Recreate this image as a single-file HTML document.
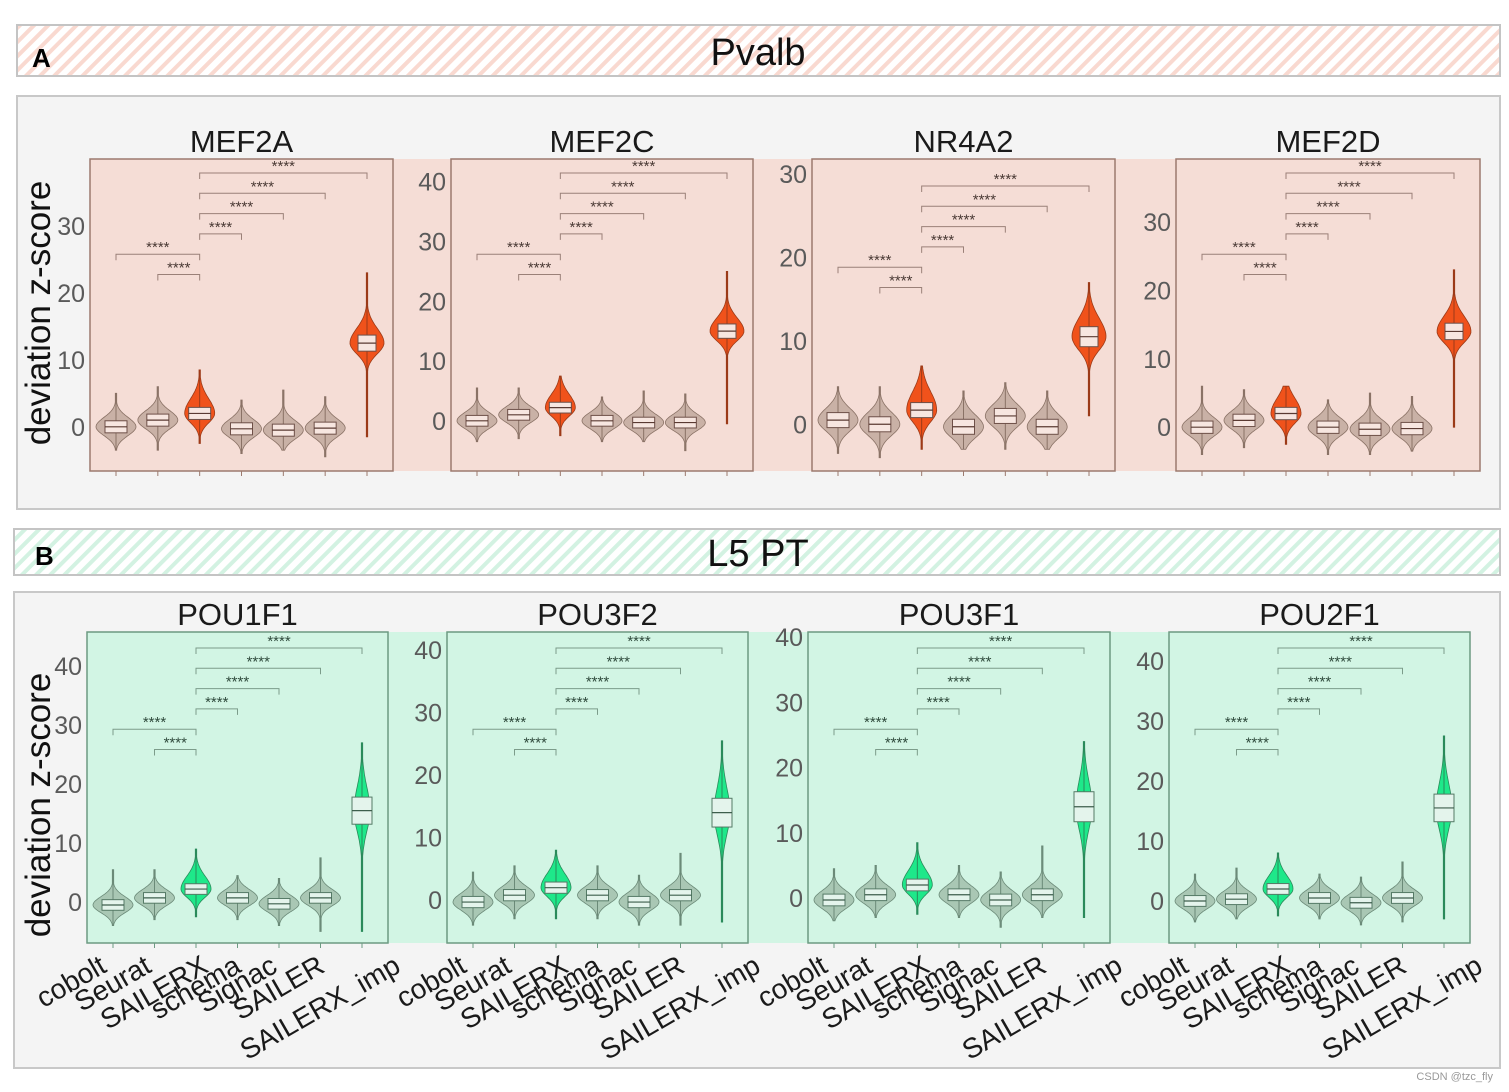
<!DOCTYPE html>
<html><head><meta charset="utf-8">
<style>
html,body{margin:0;padding:0;background:#fff;width:1509px;height:1092px;overflow:hidden}
svg{display:block;font-family:"Liberation Sans",sans-serif}
</style></head>
<body>
<svg id="fig" width="1509" height="1092" viewBox="0 0 1509 1092" xmlns="http://www.w3.org/2000/svg">
<defs>
<pattern id="hatchA" patternUnits="userSpaceOnUse" width="10" height="10" patternTransform="rotate(45)">
<rect width="10" height="10" fill="#fff"/><rect width="4" height="10" fill="#f9d9d0"/></pattern>
<pattern id="hatchB" patternUnits="userSpaceOnUse" width="10" height="10" patternTransform="rotate(45)">
<rect width="10" height="10" fill="#fff"/><rect width="4" height="10" fill="#d3f2e2"/></pattern>
</defs>
<rect x="17" y="25" width="1483" height="51" fill="url(#hatchA)" stroke="#c4c4c4" stroke-width="2"/>
<text x="758" y="65" font-size="38" text-anchor="middle" fill="#111">Pvalb</text>
<text x="32" y="67" font-size="26" font-weight="bold" fill="#000">A</text>
<rect x="17" y="96" width="1483" height="413" fill="#f4f4f4" stroke="#c8c8c8" stroke-width="2"/>
<rect x="90" y="159" width="1390" height="312" fill="#f5ddd6"/>
<rect x="14" y="529" width="1486" height="46" fill="url(#hatchB)" stroke="#c4c4c4" stroke-width="2"/>
<text x="758" y="566" font-size="38" text-anchor="middle" fill="#111">L5 PT</text>
<text x="35" y="565" font-size="26" font-weight="bold" fill="#000">B</text>
<rect x="14" y="592" width="1486" height="476" fill="#f4f4f4" stroke="#c8c8c8" stroke-width="2"/>
<rect x="87" y="632" width="1383" height="311" fill="#d2f5e4"/>
<text transform="translate(50,313) rotate(-90)" font-size="35" text-anchor="middle" fill="#111">deviation z-score</text>
<text transform="translate(50,805) rotate(-90)" font-size="35" text-anchor="middle" fill="#111">deviation z-score</text>
<text x="1493" y="1080" font-size="11" text-anchor="end" fill="#999">CSDN @tzc_fly</text>
</svg>
<script>
const categories = ["cobolt","Seurat","SAILERX","schema","Signac","SAILER","SAILERX_imp"];
const genes = ["MEF2A","MEF2C","NR4A2","MEF2D","POU1F1","POU3F2","POU3F1","POU2F1"];
const medians = [
 [0,1,2,-0.3,-0.5,-0.2,12.5],
 [0,1,2.2,0,-0.3,-0.3,15],
 [0.5,0,1.7,-0.3,1,-0.3,10.5],
 [0,1,2,0,-0.3,-0.2,14],
 [-0.5,0.7,2.2,0.7,-0.3,0.7,15.5],
 [-0.3,0.8,2,0.8,-0.3,0.8,14],
 [-0.3,0.5,2,0.5,-0.3,0.5,14],
 [0,0.3,2,0.5,-0.3,0.5,15.5]];
const mins = [
 [-3.5,-3.5,-2.5,-4,-3.5,-4.5,-1.5],
 [-3.5,-3,-2.5,-3.5,-3.5,-5,-0.5],
 [-3.5,-4,-3,-3,-3,-3,1],
 [-4,-3,-2.5,-4,-4,-3.5,0],
 [-4,-3,-2.5,-3,-4,-5,-5],
 [-4,-3,-3,-3,-4,-4,-3.5],
 [-3.5,-3,-2.5,-3,-4.5,-3,-3],
 [-3.5,-3,-2.5,-3,-4,-3.5,-3]];
const maxs = [
 [5,6,8.5,4,5.5,4.5,23],
 [5.5,5.5,7.5,4,5,4.5,25],
 [4.5,4.5,7,4,5,4,17],
 [6,5.5,6,4,5,4.5,23],
 [5.5,5.5,9,4.5,4,7.5,27],
 [4.5,5.5,8,5.5,4,7.5,25.5],
 [4.5,5,8.5,5,4,8,24],
 [4.5,5.5,8,4.5,4,6.5,27.5]];
const yTicks = [[0,10,20,30],[0,10,20,30,40],[0,10,20,30],[0,10,20,30],
 [0,10,20,30,40],[0,10,20,30,40],[0,10,20,30,40],[0,10,20,30,40]];
const yMaxs = [40,43.8,31.8,39.2,45.8,42.9,40.8,44.8];
const yMins = [-6.6,-8.4,-5.6,-6.4,-6.95,-6.85,-6.9,-7];
const sigLabels = ["****","****","****","****","****","****"];

const svg = document.getElementById('fig');
const NS = "http://www.w3.org/2000/svg";
function mk(tag, attrs, parent){const e=document.createElementNS(NS,tag);for(const k in attrs)e.setAttribute(k,attrs[k]);(parent||svg).appendChild(e);return e;}

const panels = [
 {l:90,r:393,t:159,b:471,A:true,bt:14},{l:451,r:753,t:159,b:471,A:true,bt:14},
 {l:812,r:1115,t:159,b:471,A:true,bt:27},{l:1176,r:1480,t:159,b:471,A:true,bt:14},
 {l:87,r:388,t:632,b:943,A:false,bt:16},{l:447,r:748,t:632,b:943,A:false,bt:16},
 {l:808,r:1110,t:632,b:943,A:false,bt:16},{l:1169,r:1470,t:632,b:943,A:false,bt:16}];

panels.forEach((p,gi)=>{
 const A=p.A;
 const frame=A?"#9c7a6e":"#6d9a82", txtc=A?"#4a3a35":"#2f4a3c";
 const base=A?"#c9b1a6":"#a9c7b4", baseS=A?"#8a7266":"#6b8a78";
 const hi=A?"#f0521b":"#1ee88a", hiS=A?"#9b3a18":"#2a8a5a";
 const y=v=>p.b-(v-yMins[gi])/(yMaxs[gi]-yMins[gi])*(p.b-p.t);
 const x=i=>p.l+26+i*((p.r-p.l-52)/6);
 const g=mk('g',{});
 
 
 const fr=mk('rect',{x:p.l,y:p.t,width:p.r-p.l,height:p.b-p.t,fill:"none",stroke:frame,"stroke-width":1.5},g);
 
 
 const tt=mk('text',{x:(p.l+p.r)/2,y:p.t-7,"font-size":31,"text-anchor":"middle",fill:"#1a1a1a"},g);
 tt.textContent=genes[gi];
 
 
 yTicks[gi].forEach(v=>{
  const t=mk('text',{x:p.l-5,y:y(v)+9,"font-size":25,"text-anchor":"end",fill:"#5a5a5a"},g);
  t.textContent=v;
  
  
 });
 categories.forEach((c,i)=>{
  const cx=x(i);
  mk('line',{x1:cx,x2:cx,y1:p.b,y2:p.b+5,stroke:frame,"stroke-width":1},g);
  const med=medians[gi][i], lo=mins[gi][i], hv=maxs[gi][i];
  const imp=i===6, sx=i===2;
  const W=imp?(A?17:8):(sx?15:20);
  const s=imp?(A?1.6:3.5):(sx?1.4:1.3);
  const upS=imp?(A?2.2:4):(sx?2.2:1.4);
  let left=[],right=[];
  for(let k=0;k<=60;k++){
   const v=lo+(hv-lo)*k/60;
   const d=v-med, sd=d>0?upS:s;
   let w=W*Math.exp(-(d*d)/(2*sd*sd));
   if(w<0.7) w=0.7;
   right.push((cx+w).toFixed(1)+","+y(v).toFixed(1));
   left.unshift((cx-w).toFixed(1)+","+y(v).toFixed(1));
  }
  const col=(sx||imp)?hi:base, sc=(sx||imp)?hiS:baseS;
  const vp=mk('path',{d:"M"+right.join(" L")+" L"+left.join(" L")+"Z",fill:col,stroke:sc,"stroke-width":0.8},g);
  
  
  mk('line',{x1:cx,x2:cx,y1:y(lo),y2:y(hv),stroke:sc,"stroke-width":1},g);
  const q=imp?(A?1.2:2.3):0.9, bw=imp?(A?9:10):11;
  const bx=mk('rect',{x:cx-bw,y:y(med+q),width:bw*2,height:y(med-q)-y(med+q),fill:A?"#f7e6e0":"#e4f4ec",stroke:A?"#6e5048":"#557a66","stroke-width":1},g);
  
  
  mk('line',{x1:cx-bw,x2:cx+bw,y1:y(med),y2:y(med),stroke:A?"#5a3a32":"#3d5e4c","stroke-width":1.2},g);
  if(!A){
   const fs=28;
   const lb=mk('text',{x:0,y:0,"font-size":fs,"text-anchor":"middle","dominant-baseline":"central",fill:"#1a1a1a"},g);
   lb.textContent=c;
   
   
   const L=lb.getComputedTextLength();
   const bh=L*0.5+fs*0.8*0.87;
   lb.setAttribute('transform',`translate(${cx-42},${p.b+10+bh/2}) rotate(-30)`);
  }
 });
 const order=[6,5,4,3,0,1];
 order.forEach((o,k)=>{
  const by=p.t+p.bt+k*20.3;
  const a=x(2), b=x(o);
  mk('path',{d:`M${a},${by+6} L${a},${by} L${b},${by} L${b},${by+6}`,fill:"none",stroke:A?"#9a8078":"#7c9c8a","stroke-width":1},g);
  const st=mk('text',{x:(a+b)/2,y:by-2,"font-size":15,"text-anchor":"middle",fill:txtc},g);
  st.textContent=sigLabels[k];
  
  
 });
});
</script>
</body></html>
